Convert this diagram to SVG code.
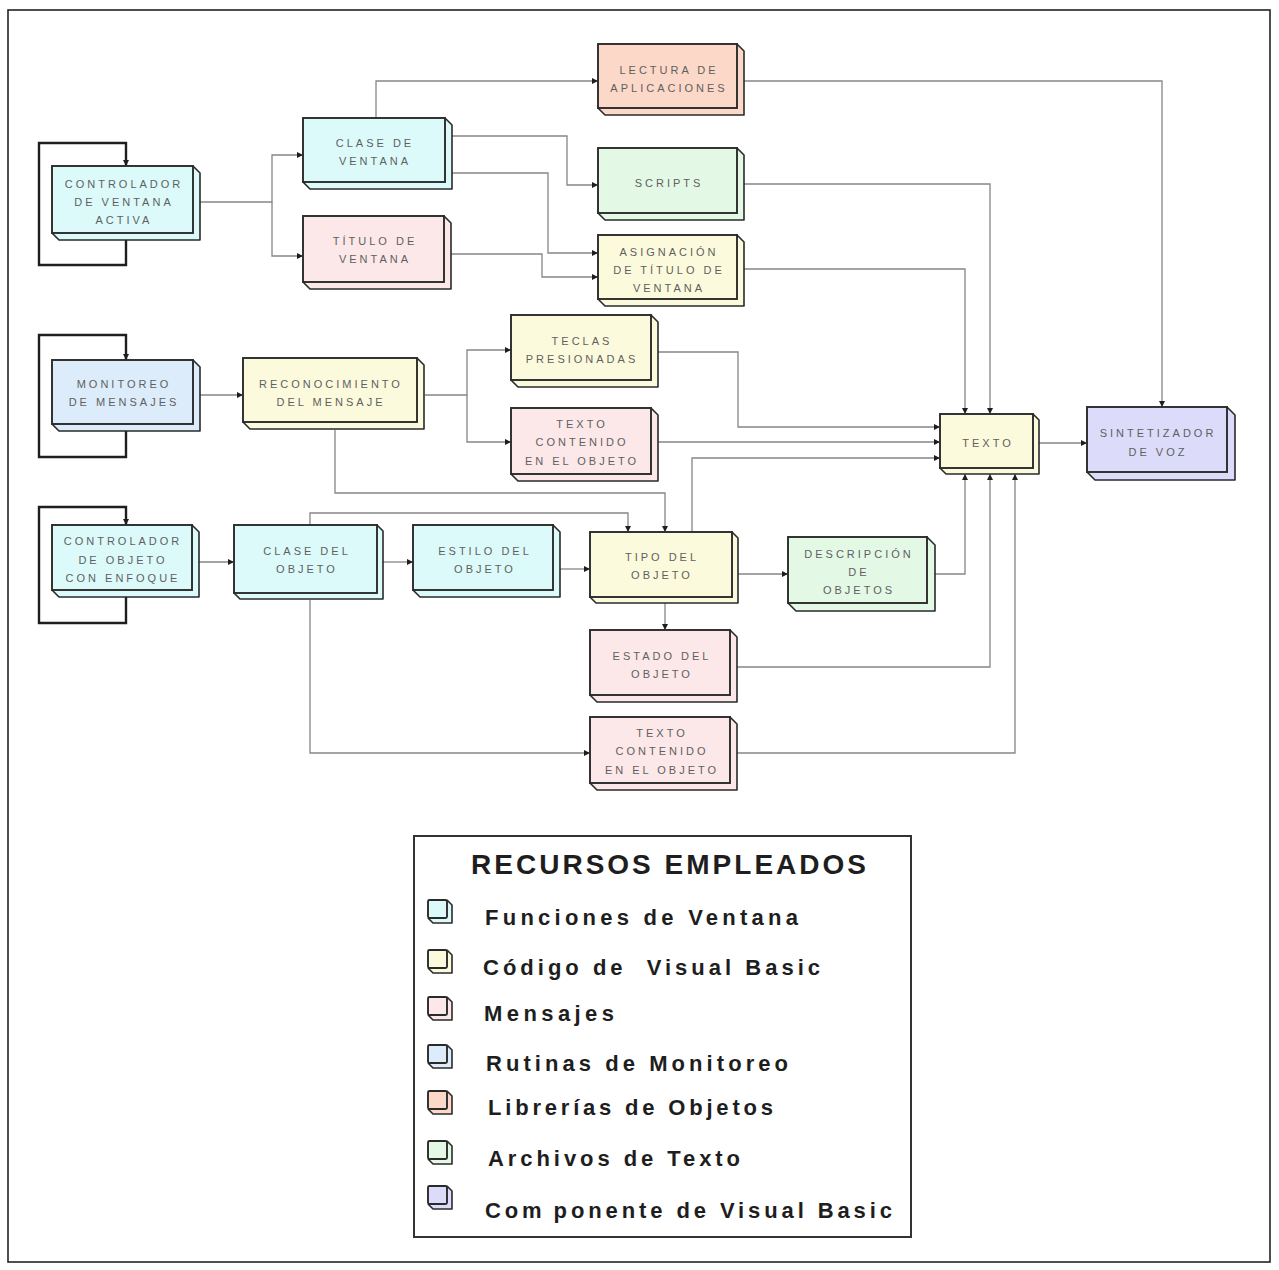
<svg xmlns="http://www.w3.org/2000/svg" width="1279" height="1270" viewBox="0 0 1279 1270">
  <style>
    .face { stroke: #2a2a2a; stroke-width: 1.9; }
    .slab { stroke: #2a2a2a; stroke-width: 1.6; stroke-linejoin: round; }
    .lbl { font-family: "Liberation Sans", Arial, sans-serif; font-size: 11px; letter-spacing: 3px; fill: #5f5f5f; text-anchor: middle; }
    .wire { fill: none; stroke: #868686; stroke-width: 1.3; }
    .loop { fill: none; stroke: #1e1e1e; stroke-width: 2.4; }
    .leg { font-family: "Liberation Sans", Arial, sans-serif; font-weight: bold; font-size: 22px; fill: #1e1e1e; }
    .c-win { fill: #dcfafa; }
    .c-vb { fill: #fcfadc; }
    .c-msg { fill: #fce8e8; }
    .c-mon { fill: #dcecfa; }
    .c-lib { fill: #fcd8c8; }
    .c-txt { fill: #e4f8e6; }
    .c-cmp { fill: #dcdcfa; }
  </style>
  <defs>
    <marker id="tip" viewBox="0 0 6 6" refX="6" refY="3" markerWidth="6" markerHeight="6" markerUnits="userSpaceOnUse" orient="auto">
      <path d="M0,0 L6,3 L0,6 z" fill="#1e1e1e"/>
    </marker>
  </defs>

  <rect width="1279" height="1270" fill="#ffffff"/>
  <!-- page frame -->
  <rect x="8" y="10" width="1262" height="1252" fill="none" stroke="#222" stroke-width="1.6"/>

  <!-- connectors -->
  <g id="connectors">
    <path class="loop" d="M126,240 V265 H39 V143 H126 V166" marker-end="url(#tip)"/>
    <path class="loop" d="M126,431 V457 H39 V335 H126 V360" marker-end="url(#tip)"/>
    <path class="loop" d="M126,597 V623 H39 V507 H126 V525" marker-end="url(#tip)"/>

    <path class="wire" d="M200,202 H272 V155 H303" marker-end="url(#tip)"/>
    <path class="wire" d="M272,202 V256 H303" marker-end="url(#tip)"/>
    <path class="wire" d="M376,118 V81 H598" marker-end="url(#tip)"/>
    <path class="wire" d="M452,136 H567 V185 H598" marker-end="url(#tip)"/>
    <path class="wire" d="M452,173 H548 V253 H598" marker-end="url(#tip)"/>
    <path class="wire" d="M451,254 H542 V277 H598" marker-end="url(#tip)"/>
    <path class="wire" d="M744,81 H1162 V407" marker-end="url(#tip)"/>
    <path class="wire" d="M744,184 H990 V414" marker-end="url(#tip)"/>
    <path class="wire" d="M744,269 H965 V414" marker-end="url(#tip)"/>

    <path class="wire" d="M200,395 H243" marker-end="url(#tip)"/>
    <path class="wire" d="M425,395 H467 V350 H511" marker-end="url(#tip)"/>
    <path class="wire" d="M467,395 V442 H511" marker-end="url(#tip)"/>
    <path class="wire" d="M335,430 V493 H665 V532" marker-end="url(#tip)"/>
    <path class="wire" d="M658,352 H738 V427 H940" marker-end="url(#tip)"/>
    <path class="wire" d="M658,442 H940" marker-end="url(#tip)"/>
    <path class="wire" d="M692,532 V458 H940" marker-end="url(#tip)"/>
    <path class="wire" d="M1038,443 H1087" marker-end="url(#tip)"/>

    <path class="wire" d="M197,562 H234" marker-end="url(#tip)"/>
    <path class="wire" d="M310,525 V513 H628 V532" marker-end="url(#tip)"/>
    <path class="wire" d="M383,562 H413" marker-end="url(#tip)"/>
    <path class="wire" d="M559,569 H590" marker-end="url(#tip)"/>
    <path class="wire" d="M738,574 H788" marker-end="url(#tip)"/>
    <path class="wire" d="M934,574 H965 V474" marker-end="url(#tip)"/>
    <path class="wire" d="M665,603 V630" marker-end="url(#tip)"/>
    <path class="wire" d="M737,667 H990 V474" marker-end="url(#tip)"/>
    <path class="wire" d="M310,600 V753 H590" marker-end="url(#tip)"/>
    <path class="wire" d="M737,753 H1015 V474" marker-end="url(#tip)"/>
  </g>

  <!-- nodes: front face plus a 7px slab on the right and bottom -->
  <g id="controlador-ventana">
    <polygon class="slab c-win" points="193,166 200,173 200,240 59,240 52,233"/>
    <rect class="face c-win" x="52" y="166" width="141" height="67"/>
    <text class="lbl"><tspan x="124" y="188">CONTROLADOR</tspan><tspan x="124" y="206">DE VENTANA</tspan><tspan x="124" y="224">ACTIVA</tspan></text>
  </g>
  <g id="clase-ventana">
    <polygon class="slab c-win" points="445,118 452,125 452,189 310,189 303,182"/>
    <rect class="face c-win" x="303" y="118" width="142" height="64"/>
    <text class="lbl"><tspan x="375" y="147">CLASE DE</tspan><tspan x="375" y="165">VENTANA</tspan></text>
  </g>
  <g id="titulo-ventana">
    <polygon class="slab c-msg" points="444,216 451,223 451,289 310,289 303,282"/>
    <rect class="face c-msg" x="303" y="216" width="141" height="66"/>
    <text class="lbl"><tspan x="375" y="245">TÍTULO DE</tspan><tspan x="375" y="263">VENTANA</tspan></text>
  </g>
  <g id="lectura-aplicaciones">
    <polygon class="slab c-lib" points="737,44 744,51 744,115 605,115 598,108"/>
    <rect class="face c-lib" x="598" y="44" width="139" height="64"/>
    <text class="lbl"><tspan x="669" y="74">LECTURA DE</tspan><tspan x="669" y="92">APLICACIONES</tspan></text>
  </g>
  <g id="scripts">
    <polygon class="slab c-txt" points="737,148 744,155 744,220 605,220 598,213"/>
    <rect class="face c-txt" x="598" y="148" width="139" height="65"/>
    <text class="lbl"><tspan x="669" y="187">SCRIPTS</tspan></text>
  </g>
  <g id="asignacion-titulo">
    <polygon class="slab c-vb" points="737,235 744,242 744,306 605,306 598,299"/>
    <rect class="face c-vb" x="598" y="235" width="139" height="64"/>
    <text class="lbl"><tspan x="669" y="256">ASIGNACIÓN</tspan><tspan x="669" y="274">DE TÍTULO DE</tspan><tspan x="669" y="292">VENTANA</tspan></text>
  </g>
  <g id="monitoreo-mensajes">
    <polygon class="slab c-mon" points="193,360 200,367 200,431 59,431 52,424"/>
    <rect class="face c-mon" x="52" y="360" width="141" height="64"/>
    <text class="lbl"><tspan x="124" y="388">MONITOREO</tspan><tspan x="124" y="406">DE MENSAJES</tspan></text>
  </g>
  <g id="reconocimiento-mensaje">
    <polygon class="slab c-vb" points="417,358 424,365 424,429 250,429 243,422"/>
    <rect class="face c-vb" x="243" y="358" width="174" height="64"/>
    <text class="lbl"><tspan x="331" y="388">RECONOCIMIENTO</tspan><tspan x="331" y="406">DEL MENSAJE</tspan></text>
  </g>
  <g id="teclas-presionadas">
    <polygon class="slab c-vb" points="651,315 658,322 658,387 518,387 511,380"/>
    <rect class="face c-vb" x="511" y="315" width="140" height="65"/>
    <text class="lbl"><tspan x="582" y="345">TECLAS</tspan><tspan x="582" y="363">PRESIONADAS</tspan></text>
  </g>
  <g id="texto-contenido-mensaje">
    <polygon class="slab c-msg" points="651,408 658,415 658,481 518,481 511,474"/>
    <rect class="face c-msg" x="511" y="408" width="140" height="66"/>
    <text class="lbl"><tspan x="582" y="428">TEXTO</tspan><tspan x="582" y="446">CONTENIDO</tspan><tspan x="582" y="465">EN EL OBJETO</tspan></text>
  </g>
  <g id="texto">
    <polygon class="slab c-vb" points="1033,414 1039,420 1039,474 946,474 940,468"/>
    <rect class="face c-vb" x="940" y="414" width="93" height="54"/>
    <text class="lbl"><tspan x="988" y="447">TEXTO</tspan></text>
  </g>
  <g id="sintetizador-voz">
    <polygon class="slab c-cmp" points="1227,407 1235,415 1235,480 1095,480 1087,472"/>
    <rect class="face c-cmp" x="1087" y="407" width="140" height="65"/>
    <text class="lbl"><tspan x="1158" y="437">SINTETIZADOR</tspan><tspan x="1158" y="456">DE VOZ</tspan></text>
  </g>
  <g id="controlador-objeto">
    <polygon class="slab c-win" points="192,525 199,532 199,597 59,597 52,590"/>
    <rect class="face c-win" x="52" y="525" width="140" height="65"/>
    <text class="lbl"><tspan x="123" y="545">CONTROLADOR</tspan><tspan x="123" y="564">DE OBJETO</tspan><tspan x="123" y="582">CON ENFOQUE</tspan></text>
  </g>
  <g id="clase-objeto">
    <polygon class="slab c-win" points="377,525 383,531 383,599 240,599 234,593"/>
    <rect class="face c-win" x="234" y="525" width="143" height="68"/>
    <text class="lbl"><tspan x="307" y="555">CLASE DEL</tspan><tspan x="307" y="573">OBJETO</tspan></text>
  </g>
  <g id="estilo-objeto">
    <polygon class="slab c-win" points="553,525 560,532 560,597 420,597 413,590"/>
    <rect class="face c-win" x="413" y="525" width="140" height="65"/>
    <text class="lbl"><tspan x="485" y="555">ESTILO DEL</tspan><tspan x="485" y="573">OBJETO</tspan></text>
  </g>
  <g id="tipo-objeto">
    <polygon class="slab c-vb" points="732,532 738,538 738,603 596,603 590,597"/>
    <rect class="face c-vb" x="590" y="532" width="142" height="65"/>
    <text class="lbl"><tspan x="662" y="561">TIPO DEL</tspan><tspan x="662" y="579">OBJETO</tspan></text>
  </g>
  <g id="descripcion-objetos">
    <polygon class="slab c-txt" points="927,537 935,545 935,611 796,611 788,603"/>
    <rect class="face c-txt" x="788" y="537" width="139" height="66"/>
    <text class="lbl"><tspan x="859" y="558">DESCRIPCIÓN</tspan><tspan x="859" y="576">DE</tspan><tspan x="859" y="594">OBJETOS</tspan></text>
  </g>
  <g id="estado-objeto">
    <polygon class="slab c-msg" points="730,630 737,637 737,702 597,702 590,695"/>
    <rect class="face c-msg" x="590" y="630" width="140" height="65"/>
    <text class="lbl"><tspan x="662" y="660">ESTADO DEL</tspan><tspan x="662" y="678">OBJETO</tspan></text>
  </g>
  <g id="texto-contenido-objeto">
    <polygon class="slab c-msg" points="730,717 737,724 737,790 597,790 590,783"/>
    <rect class="face c-msg" x="590" y="717" width="140" height="66"/>
    <text class="lbl"><tspan x="662" y="737">TEXTO</tspan><tspan x="662" y="755">CONTENIDO</tspan><tspan x="662" y="774">EN EL OBJETO</tspan></text>
  </g>

  <!-- legend -->
  <g id="legend">
    <rect x="414" y="836" width="497" height="401" fill="#ffffff" stroke="#333" stroke-width="2"/>
    <text x="471" y="874" font-family="'Liberation Sans', Arial, sans-serif" font-weight="bold" font-size="28" fill="#1e1e1e" textLength="395" lengthAdjust="spacing">RECURSOS EMPLEADOS</text>

    <g id="legend-funciones">
      <path class="slab c-win" d="M447,900 L452,905 L452,923 L433,923 L428,918"/>
      <rect class="face c-win" x="428" y="900" width="19" height="18" rx="1.5"/>
      <text class="leg" x="485" y="925" textLength="313" lengthAdjust="spacing">Funciones de Ventana</text>
    </g>
    <g id="legend-codigo">
      <path class="slab c-vb" d="M447,950 L452,955 L452,973 L433,973 L428,968"/>
      <rect class="face c-vb" x="428" y="950" width="19" height="18" rx="1.5"/>
      <text class="leg" x="483" y="975" textLength="337" lengthAdjust="spacing">Código de <tspan dx="10">Visual Basic</tspan></text>
    </g>
    <g id="legend-mensajes">
      <path class="slab c-msg" d="M447,997 L452,1002 L452,1020 L433,1020 L428,1015"/>
      <rect class="face c-msg" x="428" y="997" width="19" height="18" rx="1.5"/>
      <text class="leg" x="484" y="1021" textLength="130" lengthAdjust="spacing">Mensajes</text>
    </g>
    <g id="legend-rutinas">
      <path class="slab c-mon" d="M447,1045 L452,1050 L452,1068 L433,1068 L428,1063"/>
      <rect class="face c-mon" x="428" y="1045" width="19" height="18" rx="1.5"/>
      <text class="leg" x="486" y="1071" textLength="302" lengthAdjust="spacing">Rutinas de Monitoreo</text>
    </g>
    <g id="legend-librerias">
      <path class="slab c-lib" d="M447,1091 L452,1096 L452,1114 L433,1114 L428,1109"/>
      <rect class="face c-lib" x="428" y="1091" width="19" height="18" rx="1.5"/>
      <text class="leg" x="488" y="1115" textLength="285" lengthAdjust="spacing">Librerías de Objetos</text>
    </g>
    <g id="legend-archivos">
      <path class="slab c-txt" d="M447,1141 L452,1146 L452,1164 L433,1164 L428,1159"/>
      <rect class="face c-txt" x="428" y="1141" width="19" height="18" rx="1.5"/>
      <text class="leg" x="488" y="1166" textLength="252" lengthAdjust="spacing">Archivos de Texto</text>
    </g>
    <g id="legend-componente">
      <path class="slab c-cmp" d="M447,1186 L452,1191 L452,1209 L433,1209 L428,1204"/>
      <rect class="face c-cmp" x="428" y="1186" width="19" height="18" rx="1.5"/>
      <text class="leg" x="485" y="1218" textLength="407" lengthAdjust="spacing">Com<tspan dx="8">ponente de Visual Basic</tspan></text>
    </g>
  </g>
</svg>
